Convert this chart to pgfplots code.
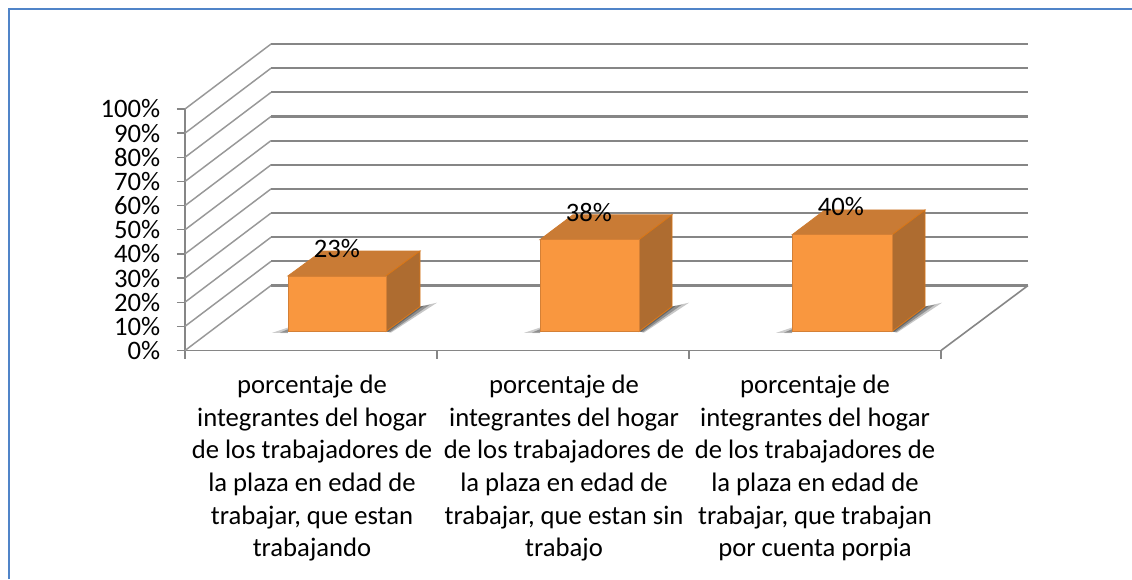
\documentclass[border=0pt]{standalone}
\usepackage{pgfplots}
\pgfplotsset{compat=1.18}
\usepackage{fontspec}
\setmainfont{Carlito}
\definecolor{gridc}{HTML}{868686}
\definecolor{frontc}{HTML}{F9973F}
\definecolor{topc}{HTML}{C97B35}
\definecolor{sidec}{HTML}{AE6C30}
\definecolor{framec}{HTML}{5084C8}
\begin{document}
\begin{tikzpicture}
\useasboundingbox (-138.75pt,-171.375pt) rectangle (710.25pt,262.875pt);
\fill[white] (-138.75pt,-171.375pt) rectangle (710.25pt,262.875pt);
\draw[framec,line width=1.6pt] (-132pt,-171.375pt) -- (-132pt,256.2pt) -- (710.25pt,256.2pt);
\begin{axis}[
  at={(0,0)},anchor=south west,
  scale only axis,width=567pt,height=181.125pt,
  xmin=185,xmax=941,ymin=0,ymax=100,clip=false,
  axis lines=left,axis line style={-,gridc,line width=1.2pt},
  tick align=outside,
  xtick={312,564,815},xticklabels={
    {porcentaje de\\integrantes del hogar\\de los trabajadores de\\la plaza en edad de\\trabajar, que estan\\trabajando},
    {porcentaje de\\integrantes del hogar\\de los trabajadores de\\la plaza en edad de\\trabajar, que estan sin\\trabajo},
    {porcentaje de\\integrantes del hogar\\de los trabajadores de\\la plaza en edad de\\trabajar, que trabajan\\por cuenta porpia}},
  minor xtick={185,437,689,941},
  major x tick style={draw=none},
  minor tick length=6pt,major tick length=6pt,
  every tick/.style={gridc,line width=1pt},
  x tick label style={align=center,font=\fontsize{20}{24.45}\selectfont,yshift=-9pt},
  ytick={0,10,...,100},yticklabel={\pgfmathprintnumber{\tick}\%},
  /pgf/number format/assume math mode=true,
  y tick label style={font=\fontsize{20}{20}\selectfont,xshift=-9pt},
]
% walls: side wall and back wall gridlines
\foreach \v/\b in {0/26.9,10/36.9,20/46.9,30/56.9,40/66.9,50/76.9,60/86.9,70/96.9,80/106.9,90/116.9,100/126.9}{
  \edef\tmp{\noexpand\addplot[gridc!85!white,line width=1.1pt,forget plot] coordinates {(185,\v) (271,\b)};
  \noexpand\addplot[gridc,line width=1.6pt,forget plot] coordinates {(271,\b) (1028,\b)};}
  \tmp
}
\addplot[gridc,line width=1.2pt,forget plot] coordinates {(941,0) (1028,26.9)};
% bar 1 : 23
\addplot[draw=none,fill=black,fill opacity=.2] coordinates {(272,7.3) (288,9.5) (288,7.2)} -- cycle;
\addplot[draw=none,fill=black,fill opacity=.3] coordinates {(280,7.4) (288,8.8) (288,7.4)} -- cycle;
\addplot[draw=none,fill=black,fill opacity=.22] coordinates {(386,7.9) (420,18.2) (437,19.8) (391,7.4)} -- cycle;
\addplot[draw=none,fill=black,fill opacity=.28] coordinates {(386,7.9) (420,18.2) (430,19) (390,7.6)} -- cycle;
\addplot[draw=none,fill=black,fill opacity=.28] coordinates {(386,7.9) (420,18.2) (424,18.6) (388,7.7)} -- cycle;
\addplot[draw=topc!90!orange,line width=.6pt,fill=topc] coordinates {(288,30.9) (386,30.9) (420,41.2) (322,41.2)} -- cycle;
\addplot[draw=orange!55!sidec,line width=.6pt,fill=sidec] coordinates {(386,7.9) (386,30.9) (420,41.2) (420,18.2)} -- cycle;
\addplot[draw=frontc!85!black,line width=.5pt,fill=frontc] coordinates {(288,7.9) (386,7.9) (386,30.9) (288,30.9)} -- cycle;
% bar 2 : 38
\addplot[draw=none,fill=black,fill opacity=.2] coordinates {(524,7.3) (540,9.5) (540,7.2)} -- cycle;
\addplot[draw=none,fill=black,fill opacity=.3] coordinates {(532,7.4) (540,8.8) (540,7.4)} -- cycle;
\addplot[draw=none,fill=black,fill opacity=.22] coordinates {(639,7.9) (672,18.2) (689,19.8) (644,7.4)} -- cycle;
\addplot[draw=none,fill=black,fill opacity=.28] coordinates {(639,7.9) (672,18.2) (682,19) (643,7.6)} -- cycle;
\addplot[draw=none,fill=black,fill opacity=.28] coordinates {(639,7.9) (672,18.2) (676,18.6) (641,7.7)} -- cycle;
\addplot[draw=topc!90!orange,line width=.6pt,fill=topc] coordinates {(540,45.9) (639,45.9) (672,56.2) (573,56.2)} -- cycle;
\addplot[draw=orange!55!sidec,line width=.6pt,fill=sidec] coordinates {(639,7.9) (639,45.9) (672,56.2) (672,18.2)} -- cycle;
\addplot[draw=frontc!85!black,line width=.5pt,fill=frontc] coordinates {(540,7.9) (639,7.9) (639,45.9) (540,45.9)} -- cycle;
% bar 3 : 40
\addplot[draw=none,fill=black,fill opacity=.2] coordinates {(776,7.3) (792,9.5) (792,7.2)} -- cycle;
\addplot[draw=none,fill=black,fill opacity=.3] coordinates {(784,7.4) (792,8.8) (792,7.4)} -- cycle;
\addplot[draw=none,fill=black,fill opacity=.22] coordinates {(892,7.9) (925,18.2) (942,19.8) (897,7.4)} -- cycle;
\addplot[draw=none,fill=black,fill opacity=.28] coordinates {(892,7.9) (925,18.2) (935,19) (896,7.6)} -- cycle;
\addplot[draw=none,fill=black,fill opacity=.28] coordinates {(892,7.9) (925,18.2) (929,18.6) (894,7.7)} -- cycle;
\addplot[draw=topc!90!orange,line width=.6pt,fill=topc] coordinates {(792,47.9) (892,47.9) (925,58.2) (825,58.2)} -- cycle;
\addplot[draw=orange!55!sidec,line width=.6pt,fill=sidec] coordinates {(892,7.9) (892,47.9) (925,58.2) (925,18.2)} -- cycle;
\addplot[draw=frontc!85!black,line width=.5pt,fill=frontc] coordinates {(792,7.9) (892,7.9) (892,47.9) (792,47.9)} -- cycle;
\node[font=\fontsize{20}{20}\selectfont] at (axis cs:337,42.4) {23\%};
\node[font=\fontsize{20}{20}\selectfont] at (axis cs:589,57.3) {38\%};
\node[font=\fontsize{20}{20}\selectfont] at (axis cs:841,59.8) {40\%};
\end{axis}
\end{tikzpicture}
\end{document}
